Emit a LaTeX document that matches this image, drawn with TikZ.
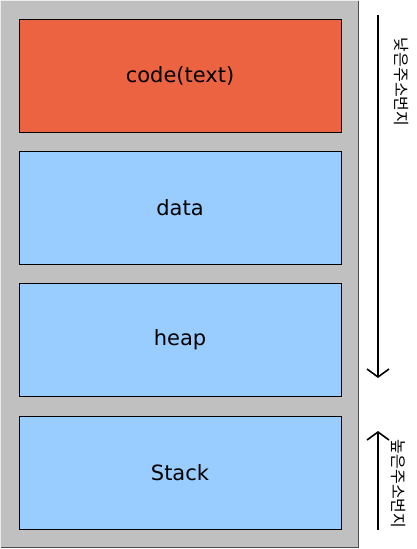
\documentclass[tikz,border=0pt]{standalone}
\usepackage{fontspec}
\setmainfont{DejaVu Sans}
\newfontfamily\krfont{Noto Sans CJK KR}
\usetikzlibrary{arrows.meta}

\definecolor{panelgray}{RGB}{192,192,192}
\definecolor{codered}{RGB}{236,99,66}
\definecolor{segblue}{RGB}{153,204,255}

\tikzset{
  segment/.style={draw=black, line width=1pt, minimum width=322pt, minimum height=113pt,
    inner sep=0pt, font=\fontsize{21}{25}\selectfont},
  addrlabel/.style={rotate=-90, font=\krfont\fontsize{16}{18}\selectfont, inner sep=0pt},
  dirarrow/.style={line width=1.6pt, -{Straight Barb[length=8pt, width=22pt, line width=1.6pt]}}
}

\begin{document}
\begin{tikzpicture}[x=1pt, y=-1pt]
		\useasboundingbox (0,0) rectangle (416,549);
		\fill[white] (0,0) rectangle (416,549);

		% Draw the memory panel
		\fill[panelgray] (0,0) rectangle (359,548);
		\draw[white!85!gray, line width=1pt] (0.5,547.5) -- (0.5,0.5) -- (358.5,0.5);
		\draw[gray!60!black, line width=1pt] (358.5,0.5) -- (358.5,547.5) -- (0.5,547.5);

		% Draw the segments
		\node[segment, fill=codered] (code) at (180,75.5) {code(text)};
		\node[segment, fill=segblue] (data) at (180,208) {data};
		\node[segment, fill=segblue] (heap) at (180,340) {heap};
		\node[segment, fill=segblue] (stack) at (180,472.5) {Stack};

		% Draw the address directions
		\coordinate (lowtop) at (378,15);
		\coordinate (lowend) at (378,378);
		\coordinate (hightop) at (378,431);
		\coordinate (highend) at (378,530);
		\draw[dirarrow] (lowtop) -- (lowend);
		\draw[dirarrow] (highend) -- (hightop);

		\node[addrlabel, anchor=center] (lowaddr) at (401,82) {낮은주소번지};
		\node[addrlabel, anchor=center] (highaddr) at (398,484) {높은주소번지};

	\end{tikzpicture}
\end{document}
